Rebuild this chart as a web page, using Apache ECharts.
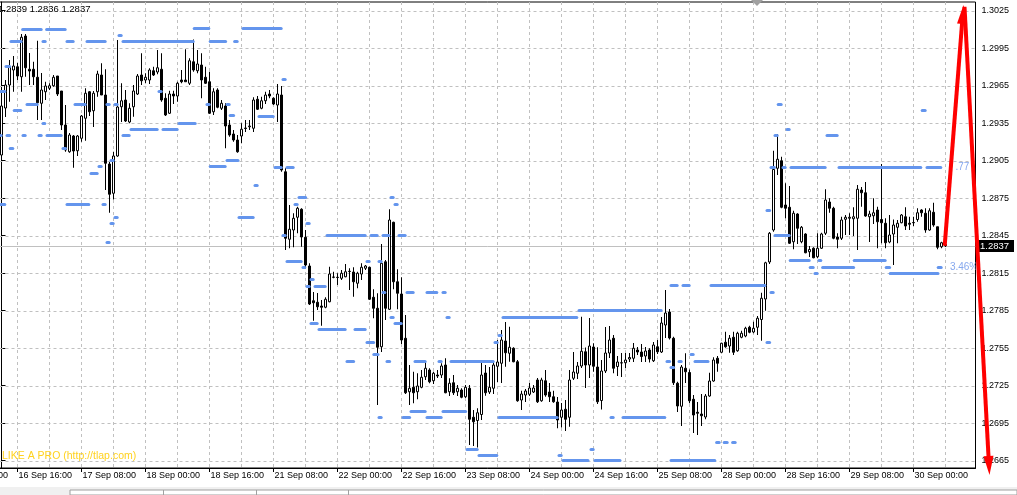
<!DOCTYPE html>
<html><head><meta charset="utf-8">
<style>html,body{margin:0;padding:0;background:#fff;overflow:hidden}#c{width:1017px;height:495px}</style>
<script src="https://cdn.jsdelivr.net/npm/echarts@6/dist/echarts.min.js"></script>
</head><body><div id="c"></div>
<script>
// ---------- DATA ----------
const headerText = '1.2839 1.2836 1.2837';
const watermarkText = 'LIKE A PRO (http://tlap.com)';
const currentPrice = 1.2837;
const currentPriceLabel = '1.2837';

const tickBars = [-12,4,20,36,52,68,84,100,116,132,148,164,180,196,212,228];
const tickText = ['16 Sep 00:00','16 Sep 16:00','17 Sep 08:00','18 Sep 00:00','18 Sep 16:00','21 Sep 08:00','22 Sep 00:00','22 Sep 16:00','23 Sep 08:00','24 Sep 00:00','24 Sep 16:00','25 Sep 08:00','28 Sep 00:00','28 Sep 16:00','29 Sep 08:00','30 Sep 00:00'];
const yTicks = [1.2665,1.2695,1.2725,1.2755,1.2785,1.2815,1.2845,1.2875,1.2905,1.2935,1.2965,1.2995,1.3025];

const opens = [
1.29096,1.29472,1.29656,1.29776,1.29802,1.29722,1.30048,1.29782,1.29782,1.29718,
1.29510,1.29602,1.29630,1.29650,1.29728,1.29608,1.29336,1.29122,1.29248,1.29130,
1.29230,1.29390,1.29602,1.29450,1.29602,1.29736,1.29576,1.29024,1.28790,1.29088,
1.29482,1.29536,1.29360,1.29482,1.29584,1.29736,1.29696,1.29696,1.29770,1.29760,
1.29782,1.29550,1.29430,1.29584,1.29568,1.29696,1.29696,1.29670,1.29842,1.29770,
1.29816,1.29718,1.29682,1.29442,1.29616,1.29470,1.29488,1.29336,1.29264,1.29216,
1.29248,1.29312,1.29322,1.29310,1.29542,1.29470,1.29530,1.29584,1.29550,1.29496,
1.29576,1.28962,1.28422,1.28496,1.28598,1.28662,1.28438,1.28208,1.27930,1.27918,
1.27888,1.27878,1.27922,1.28120,1.28118,1.28110,1.28122,1.28166,1.28160,1.28070,
1.28144,1.28190,1.28198,1.27958,1.27870,1.27562,1.28242,1.27862,1.28558,1.28082,
1.27984,1.27630,1.27202,1.27238,1.27202,1.27238,1.27322,1.27376,1.27290,1.27336,
1.27336,1.27416,1.27202,1.27274,1.27202,1.27216,1.27162,1.27230,1.26998,1.26972,
1.27020,1.27352,1.27200,1.27230,1.27406,1.27430,1.27608,1.27510,1.27550,1.27442,
1.27136,1.27176,1.27182,1.27200,1.27296,1.27130,1.27290,1.27200,1.27162,1.27120,
1.26998,1.27062,1.26998,1.27310,1.27350,1.27408,1.27522,1.27416,1.27560,1.27400,
1.27132,1.27368,1.27512,1.27630,1.27404,1.27432,1.27434,1.27464,1.27470,1.27536,
1.27520,1.27488,1.27536,1.27450,1.27562,1.27520,1.27736,1.27840,1.27630,1.27270,
1.27086,1.27390,1.27356,1.27142,1.27038,1.27024,1.27000,1.27168,1.27288,1.27470,
1.27518,1.27598,1.27568,1.27638,1.27530,1.27638,1.27648,1.27718,1.27680,1.27718,
1.27780,1.27944,1.28240,1.28496,1.28990,1.29050,1.28696,1.28678,1.28402,1.28624,
1.28402,1.28464,1.28322,1.28350,1.28282,1.28350,1.28470,1.28720,1.28670,1.28440,
1.28430,1.28582,1.28590,1.28586,1.28590,1.28816,1.28794,1.28602,1.28610,1.28656,
1.28580,1.28550,1.28400,1.28464,1.28518,1.28554,1.28602,1.28550,1.28556,1.28580,
1.28656,1.28630,1.28496,1.28638,1.28522,1.28362,1.28380];
const highs = [
1.29496,1.29696,1.29856,1.29888,1.29832,1.30064,1.30064,1.29912,1.29842,1.30010,
1.29752,1.29682,1.29670,1.29736,1.29728,1.29608,1.29496,1.29272,1.29256,1.29256,
1.29416,1.29630,1.29608,1.29608,1.29770,1.29830,1.29782,1.29040,1.29122,1.30016,
1.29670,1.29616,1.29510,1.29656,1.29744,1.29910,1.29750,1.29790,1.29802,1.29936,
1.29910,1.29590,1.29610,1.29610,1.29682,1.29776,1.29942,1.29870,1.30020,1.29936,
1.29910,1.29802,1.29762,1.29630,1.29630,1.29536,1.29510,1.29376,1.29296,1.29256,
1.29350,1.29376,1.29376,1.29558,1.29568,1.29562,1.29602,1.29616,1.29558,1.29664,
1.29648,1.28990,1.28696,1.28630,1.28682,1.28670,1.28496,1.28230,1.28000,1.27992,
1.27936,1.27958,1.28202,1.28162,1.28150,1.28176,1.28224,1.28190,1.28198,1.28162,
1.28230,1.28216,1.28202,1.28022,1.27990,1.28384,1.28256,1.28662,1.28562,1.28182,
1.28118,1.27816,1.27416,1.27362,1.27350,1.27376,1.27442,1.27390,1.27362,1.27376,
1.27430,1.27470,1.27310,1.27336,1.27256,1.27230,1.27256,1.27256,1.27056,1.27070,
1.27432,1.27416,1.27400,1.27442,1.27616,1.27696,1.27760,1.27722,1.27558,1.27456,
1.27210,1.27224,1.27272,1.27256,1.27312,1.27314,1.27376,1.27272,1.27210,1.27160,
1.27112,1.27136,1.27376,1.27520,1.27440,1.27802,1.27556,1.27792,1.27590,1.27558,
1.27456,1.27720,1.27728,1.27656,1.27488,1.27512,1.27512,1.27512,1.27592,1.27560,
1.27584,1.27560,1.27550,1.27600,1.27616,1.27800,1.28016,1.27864,1.27642,1.27282,
1.27416,1.27510,1.27380,1.27176,1.27120,1.27184,1.27184,1.27354,1.27478,1.27488,
1.27594,1.27682,1.27656,1.27682,1.27682,1.27690,1.27722,1.27730,1.27762,1.27808,
1.27994,1.28242,1.28480,1.29130,1.29264,1.29082,1.28870,1.28848,1.28650,1.28630,
1.28528,1.28470,1.28368,1.28358,1.28470,1.28474,1.28822,1.28750,1.28682,1.28470,
1.28602,1.28616,1.28630,1.28678,1.28856,1.28840,1.28880,1.28650,1.28750,1.28682,
1.29024,1.28590,1.28616,1.28580,1.28576,1.28624,1.28678,1.28602,1.28602,1.28670,
1.28662,1.28670,1.28670,1.28714,1.28522,1.28402,1.28390];
const lows = [
1.29072,1.29400,1.29522,1.29602,1.29696,1.29602,1.29722,1.29656,1.29656,1.29376,
1.29376,1.29536,1.29616,1.29642,1.29568,1.29296,1.29122,1.29114,1.28994,1.29088,
1.29202,1.29210,1.29408,1.29320,1.29562,1.29576,1.28816,1.28634,1.28740,1.29082,
1.29360,1.29360,1.29350,1.29402,1.29576,1.29656,1.29670,1.29664,1.29728,1.29742,
1.29522,1.29408,1.29424,1.29504,1.29522,1.29670,1.29682,1.29656,1.29762,1.29750,
1.29550,1.29664,1.29424,1.29416,1.29470,1.29456,1.29150,1.29242,1.29202,1.29114,
1.29190,1.29280,1.29296,1.29280,1.29456,1.29462,1.29504,1.29550,1.29496,1.29360,
1.28962,1.28336,1.28350,1.28358,1.28470,1.28362,1.28190,1.27896,1.27770,1.27856,
1.27730,1.27870,1.27918,1.28110,1.28056,1.28096,1.28118,1.28016,1.27962,1.28030,
1.28096,1.28176,1.27936,1.27790,1.27096,1.27520,1.27776,1.27856,1.28022,1.27862,
1.27584,1.27184,1.27096,1.27110,1.27142,1.27230,1.27296,1.27270,1.27264,1.27312,
1.27312,1.27190,1.27168,1.27176,1.27168,1.27150,1.27152,1.26776,1.26768,1.26756,
1.26976,1.27170,1.27184,1.27184,1.27280,1.27272,1.27402,1.27442,1.27438,1.27122,
1.27056,1.27120,1.27168,1.27192,1.27112,1.27122,1.27162,1.27120,1.27114,1.26910,
1.26916,1.26888,1.26922,1.27296,1.27304,1.27392,1.27232,1.27312,1.27362,1.27104,
1.27060,1.27352,1.27472,1.27350,1.27328,1.27320,1.27392,1.27440,1.27440,1.27496,
1.27440,1.27440,1.27436,1.27440,1.27504,1.27512,1.27632,1.27620,1.27256,1.27040,
1.26928,1.27272,1.27110,1.26872,1.26856,1.26928,1.26982,1.27162,1.27282,1.27362,
1.27510,1.27554,1.27514,1.27496,1.27522,1.27630,1.27638,1.27670,1.27670,1.27656,
1.27610,1.27850,1.28224,1.28482,1.28936,1.28670,1.28590,1.28384,1.28342,1.28384,
1.28390,1.28310,1.28280,1.28270,1.28270,1.28344,1.28456,1.28634,1.28422,1.28350,
1.28416,1.28456,1.28456,1.28448,1.28336,1.28682,1.28602,1.28400,1.28544,1.28350,
1.28390,1.28350,1.28390,1.28216,1.28390,1.28550,1.28496,1.28496,1.28528,1.28562,
1.28602,1.28474,1.28490,1.28522,1.28342,1.28350,1.28360];
const closes = [
1.29488,1.29656,1.29802,1.29808,1.29728,1.30038,1.29794,1.29768,1.29722,1.29514,
1.29616,1.29648,1.29650,1.29718,1.29584,1.29336,1.29136,1.29256,1.29128,1.29248,
1.29408,1.29590,1.29442,1.29590,1.29744,1.29576,1.29030,1.28782,1.29088,1.29480,
1.29530,1.29368,1.29470,1.29608,1.29728,1.29690,1.29718,1.29776,1.29736,1.29794,
1.29536,1.29416,1.29584,1.29568,1.29670,1.29682,1.29682,1.29850,1.29776,1.29824,
1.29696,1.29670,1.29430,1.29602,1.29478,1.29510,1.29328,1.29256,1.29216,1.29122,
1.29302,1.29308,1.29328,1.29536,1.29462,1.29530,1.29576,1.29568,1.29504,1.29584,
1.28976,1.28430,1.28502,1.28590,1.28670,1.28440,1.28216,1.27904,1.27914,1.27882,
1.27878,1.27942,1.28144,1.28118,1.28116,1.28150,1.28162,1.28164,1.28082,1.28150,
1.28198,1.28208,1.27942,1.27870,1.27558,1.28230,1.27870,1.28576,1.28082,1.27990,
1.27616,1.27194,1.27230,1.27194,1.27248,1.27318,1.27390,1.27282,1.27350,1.27328,
1.27408,1.27194,1.27270,1.27194,1.27230,1.27158,1.27238,1.26982,1.26962,1.27034,
1.27336,1.27194,1.27238,1.27416,1.27440,1.27616,1.27514,1.27558,1.27442,1.27130,
1.27184,1.27208,1.27232,1.27232,1.27122,1.27296,1.27176,1.27162,1.27122,1.26976,
1.27056,1.26982,1.27296,1.27360,1.27408,1.27526,1.27416,1.27568,1.27406,1.27122,
1.27368,1.27512,1.27616,1.27390,1.27440,1.27434,1.27456,1.27476,1.27550,1.27520,
1.27484,1.27528,1.27464,1.27576,1.27522,1.27752,1.27832,1.27632,1.27274,1.27088,
1.27400,1.27362,1.27130,1.27016,1.27030,1.27010,1.27168,1.27288,1.27456,1.27430,
1.27590,1.27562,1.27630,1.27518,1.27670,1.27670,1.27710,1.27678,1.27710,1.27790,
1.27950,1.28234,1.28470,1.28980,1.29062,1.28678,1.28670,1.28390,1.28630,1.28510,
1.28518,1.28314,1.28340,1.28274,1.28350,1.28464,1.28736,1.28670,1.28430,1.28422,
1.28576,1.28598,1.28598,1.28602,1.28822,1.28794,1.28608,1.28624,1.28634,1.28562,
1.28554,1.28394,1.28456,1.28536,1.28550,1.28616,1.28528,1.28542,1.28554,1.28634,
1.28634,1.28496,1.28650,1.28536,1.28358,1.28394,1.28370];

// blue level segments: [fromBar, toBar, price]
const levelSegments = [
[4.9,10.3,1.30102],[10.9,16.3,1.30102],[47.8,52.2,1.30108],[29,30.3,1.30056],
[2,5.3,1.30008],[10,11.3,1.30008],[16,18.3,1.30008],[21,26.3,1.30008],[30,48.3,1.30008],
[51.8,56.4,1.30008],[57.9,59.3,1.30008],[60,70.3,1.30106],[0.75,2.4,1.29808],
[-0.5,1.2,1.29608],[39,40.3,1.29608],[6,9.3,1.29504],[18,21.3,1.29504],[26,27.3,1.29504],
[28,29.3,1.29504],[51,52.3,1.29504],[56,57.3,1.29504],[2.8,5.2,1.29456],[56.8,58.4,1.2941],
[10,11.2,1.2935],[44,48.8,1.2935],[32,39.3,1.29304],[40,44.3,1.29304],[-0.5,0.3,1.29256],
[1,2.4,1.29256],[5,6.3,1.29256],[9,10.3,1.29256],[11,15.3,1.29256],[30,32.3,1.29256],
[1.8,3.2,1.29152],[15,16.4,1.29152],[27,28.3,1.29056],[24,25.3,1.29002],[51.8,56.3,1.29002],
[56,59.5,1.29056],[22,24.3,1.28949],[-0.5,1.2,1.28704],[16,22.2,1.28704],[25,26.3,1.28704],
[28,29.3,1.28598],[27,28.3,1.2855],[59,63.3,1.28598],[26,27.3,1.28398],[70,71.3,1.29702],
[64,68.3,1.29408],[68,70.3,1.28998],[71,73.3,1.28998],[63,64.3,1.28854],[74,76.4,1.28754],
[97,98.3,1.28754],[73,74.3,1.28702],[98,99.3,1.28702],[76,77.3,1.2855],[70,71.3,1.28454],
[81,91.3,1.28454],[92,94.3,1.28454],[95,97.2,1.28454],[99,101.3,1.28454],[71,75.3,1.28246],
[91,92.3,1.28246],[94,95.3,1.28246],[75,76.2,1.28198],[77,78.3,1.28102],[76,77.3,1.28046],
[78,81.3,1.28046],[95,96.2,1.27998],[101,103.3,1.27998],[106,109.2,1.27998],[110,111.3,1.27998],
[97,98.3,1.27798],[111,112.3,1.27798],[77,79.3,1.2775],[98,100.3,1.2775],[79,86.3,1.27696],
[88,91.3,1.27696],[91,93.4,1.27598],[92.7,94.5,1.27496],[86,88.4,1.27446],[96,97.4,1.27446],
[103,106.3,1.27446],[109,110.3,1.27446],[112,123.3,1.27446],[102,106.3,1.27048],[110,116.4,1.27048],
[94,95.3,1.26998],[100,102.4,1.26998],[106,110.3,1.26998],[116,119.3,1.26744],[119,124.2,1.26694],
[144,165.3,1.27848],[125,144.2,1.278],[124,125.3,1.27648],[123,124.3,1.27598],[166,167.4,1.27448],
[169,170.3,1.27448],[173,177,1.27448],[167,168.4,1.27398],[172,173.3,1.27496],[124,139.3,1.26998],
[152,153.3,1.26998],[155,166.2,1.26998],[147,148.3,1.26744],[139,140.3,1.26694],[140,147,1.26652],
[148,155,1.26652],[167,178.7,1.26652],[178.4,179.8,1.268],[180.3,181.8,1.268],[182.4,183.8,1.268],
[167,169.3,1.28048],[170,172.3,1.28048],[177,191.2,1.28048],[193.8,195.3,1.29502],[229.8,231.3,1.29456],
[196,197.3,1.29302],[193,194.3,1.29254],[206,209.3,1.29254],[192,193.6,1.29],[195,196.3,1.29],
[197,206.3,1.29],[209,230.2,1.29],[231,235.2,1.29],[191,192.4,1.28656],[193,197.3,1.28456],
[196.8,202.3,1.28248],[204,205.2,1.28248],[212.8,221.3,1.28248],[201.8,203.3,1.282],[204.9,213.4,1.282],
[220.8,222.4,1.282],[233.8,235.3,1.282],[203,204.3,1.2815],[221.8,234.5,1.2815],[192,193.3,1.27998],
[191,192.4,1.27598]];

// indicator labels: [bar, price, text]
const levelLabels = [[238.5, 1.2900, '.77'], [237.1, 1.2820, '3.46%']];

// red arrows: [fromBar, fromPrice, toBar, toPrice]
const arrows = [[235.8, 1.2837, 240.5, 1.30296], [240.75, 1.30282, 247, 1.26536]];

// ---------- CHART ----------
const LEAD = 12, SLOTS = 256;
const cats = [];
for (let k = 0; k < SLOTS; k++) cats.push('k' + k);
const tickMap = {};
tickBars.forEach((b, i) => { tickMap[b + LEAD] = tickText[i]; });
const candleData = cats.map((c, k) => {
  const b = k - LEAD;
  if (b < 0 || b >= opens.length) return '-';
  return [opens[b], closes[b], lows[b], highs[b]];
});
const gridBars = [];
for (let b = tickBars[1]; b < 240; b += 8) gridBars.push(b);
const hLineData = yTicks.map(v => [0, v]);
const vLineData = gridBars.map(b => [b, yTicks[0]]);

const FONT = 'Liberation Sans';
const GRID_COLOR = '#c0c0c0';
const chart = echarts.init(document.getElementById('c'), null, {renderer: 'canvas'});

chart.setOption({
  animation: false,
  backgroundColor: '#fff',
  textStyle: {fontFamily: FONT},
  grid: {left: -48.5, right: 41.5, top: 2, bottom: 27, outerBoundsMode: 'none', containLabel: false,
         show: true, borderColor: '#000', borderWidth: 1, backgroundColor: 'transparent'},
  xAxis: [{
    type: 'category', data: cats, boundaryGap: true,
    axisLine: {lineStyle: {color: '#000', width: 1}},
    axisTick: {show: true, interval: (i) => (i in tickMap), alignWithLabel: true, length: 4, lineStyle: {color: '#000'}},
    axisLabel: {interval: (i) => (i in tickMap), formatter: (v, i) => tickMap[i] || '', align: 'left', margin: 3,
                fontSize: 9, color: '#000', fontFamily: FONT, padding: [0, 0, 0, 1], hideOverlap: false},
    splitLine: {show: false}
  }, {
    type: 'value', min: -12.5, max: 243.5, show: false, splitLine: {show: false}
  }],
  yAxis: {
    type: 'value', position: 'right', min: 1.26592, max: 1.3032, scale: true,
    axisLine: {show: true, lineStyle: {color: '#000'}},
    axisTick: {show: true, length: 4, customValues: yTicks, lineStyle: {color: '#000'}},
    axisLabel: {customValues: yTicks, formatter: (v) => Number(v).toFixed(4), margin: 6, fontSize: 9, color: '#000', fontFamily: FONT},
    splitLine: {show: false}
  },
  graphic: [
    {type: 'text', left: -2, top: 4, z: 100, style: {text: headerText, fontSize: 9.5, fontFamily: FONT, fill: '#000'}},
    {type: 'text', left: 2, top: 451, z: 100, style: {text: watermarkText, fontSize: 10.5, fontFamily: FONT, fill: '#FFD21F'}},
    {type: 'polygon', z: 100, shape: {points: [[751, 0], [763, 0], [757, 6]]}, style: {fill: '#a0a0a0'}},
    {type: 'rect', z: 90, shape: {x: 0, y: 487, width: 1017, height: 8}, style: {fill: '#f0f0f0'}},
    {type: 'rect', z: 91, shape: {x: 70, y: 490, width: 947, height: 5}, style: {fill: '#ffffff', stroke: '#a0a0a0', lineWidth: 1}},
    {type: 'line', z: 92, shape: {x1: 163.5, y1: 490, x2: 163.5, y2: 495}, style: {stroke: '#a0a0a0'}},
    {type: 'line', z: 92, shape: {x1: 256.5, y1: 490, x2: 256.5, y2: 495}, style: {stroke: '#a0a0a0'}},
    {type: 'line', z: 92, shape: {x1: 348.5, y1: 490, x2: 348.5, y2: 495}, style: {stroke: '#a0a0a0'}}
  ],
  series: [
    { // horizontal dashed grid lines
      type: 'custom', xAxisIndex: 1, data: hLineData, z: 1, silent: true,
      encode: {x: 0, y: 1},
      renderItem: function (params, api) {
        const cs = params.coordSys;
        const y = Math.round(api.coord([0, api.value(1)])[1]) + 0.5;
        return {type: 'line', shape: {x1: cs.x, y1: y, x2: cs.x + cs.width, y2: y},
                style: {stroke: GRID_COLOR, lineWidth: 1, lineDash: [3, 3]}};
      }
    },
    { // vertical dashed grid lines
      type: 'custom', xAxisIndex: 1, data: vLineData, z: 1, silent: true,
      encode: {x: 0, y: 1},
      renderItem: function (params, api) {
        const cs = params.coordSys;
        const x = Math.floor(api.coord([api.value(0), api.value(1)])[0]) + 0.5;
        return {type: 'line', shape: {x1: x, y1: cs.y, x2: x, y2: cs.y + cs.height},
                style: {stroke: GRID_COLOR, lineWidth: 1, lineDash: [3, 3]}};
      }
    },
    { // current price line + axis label
      type: 'custom', xAxisIndex: 1, data: [[0, currentPrice]], z: 2, silent: true, clip: false,
      encode: {x: 0, y: 1},
      renderItem: function (params, api) {
        const cs = params.coordSys;
        const y = Math.round(api.coord([0, api.value(1)])[1]) + 0.5;
        const xe = cs.x + cs.width;
        return {type: 'group', children: [
          {type: 'line', shape: {x1: cs.x, y1: y, x2: xe, y2: y}, style: {stroke: GRID_COLOR, lineWidth: 1}},
          {type: 'rect', shape: {x: xe + 1.5, y: y - 6.5, width: 37, height: 12}, style: {fill: '#000'}, z2: 50},
          {type: 'text', x: xe + 4.5, y: y, z2: 51,
           style: {text: currentPriceLabel, fill: '#fff', fontSize: 9.5, fontFamily: FONT, align: 'left', verticalAlign: 'middle'}}
        ]};
      }
    },
    {
      type: 'candlestick', xAxisIndex: 0, data: candleData, barWidth: 2, z: 3, silent: true,
      itemStyle: {color: '#ffffff', color0: '#000000', borderColor: '#000000', borderColor0: '#000000', borderColorDoji: '#000000', borderWidth: 1}
    },
    {
      type: 'custom', xAxisIndex: 1, data: levelSegments, z: 4, silent: true,
      encode: {x: [0, 1], y: 2},
      renderItem: function (params, api) {
        const s = api.coord([api.value(0), api.value(2)]);
        const e = api.coord([api.value(1), api.value(2)]);
        const y0 = Math.round(s[1] - 1.5);
        return {type: 'rect', shape: {x: s[0], y: y0, width: e[0] - s[0], height: 3, r: 1.5},
                style: {fill: '#6495ED'}};
      }
    },
    {
      type: 'custom', xAxisIndex: 1, data: levelLabels, z: 5, silent: true,
      encode: {x: 0, y: 1},
      renderItem: function (params, api) {
        const p = api.coord([api.value(0), api.value(1)]);
        const cs = params.coordSys;
        return {type: 'text', x: p[0], y: p[1],
                clipPath: {type: 'rect', shape: {x: cs.x - p[0], y: cs.y - p[1], width: cs.width, height: cs.height}},
                style: {text: levelLabels[params.dataIndex][2], fill: '#86a8ee', fontSize: 10, fontFamily: FONT,
                        align: 'left', verticalAlign: 'middle'}};
      }
    },
    {
      type: 'custom', xAxisIndex: 1, data: arrows, z: 10, silent: true, clip: false,
      encode: {x: [0, 2], y: [1, 3]},
      renderItem: function (params, api) {
        const a = api.coord([api.value(0), api.value(1)]);
        const b = api.coord([api.value(2), api.value(3)]);
        const dx = b[0] - a[0], dy = b[1] - a[1];
        const len = Math.sqrt(dx * dx + dy * dy);
        const ux = dx / len, uy = dy / len, px = -uy, py = ux;
        const HL = 19, HW = 5;
        const bx = b[0] - ux * HL, by = b[1] - uy * HL;
        return {type: 'group', children: [
          {type: 'line', shape: {x1: a[0], y1: a[1], x2: bx + ux * 2, y2: by + uy * 2}, style: {stroke: '#ff0000', lineWidth: 4}},
          {type: 'polygon', shape: {points: [[b[0], b[1]], [bx + px * HW, by + py * HW], [bx - px * HW, by - py * HW]]},
           style: {fill: '#ff0000'}}
        ]};
      }
    }
  ]
});
</script></body></html>
